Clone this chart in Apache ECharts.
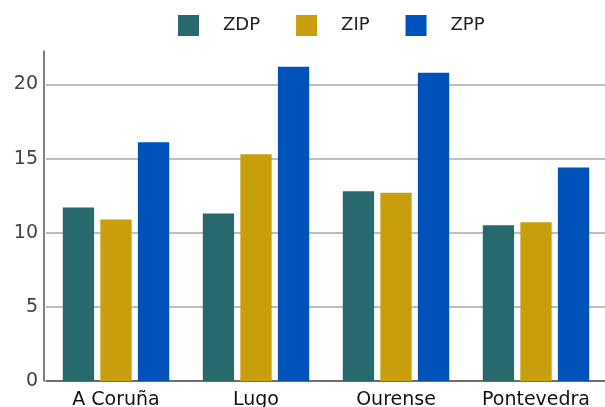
<!DOCTYPE html>
<html>
<head>
<meta charset="utf-8">
<script src="https://cdn.jsdelivr.net/npm/echarts@6/dist/echarts.min.js"></script>
<style>
  html, body { margin: 0; padding: 0; background: #fff; }
  #chart { width: 605px; height: 407px; }
</style>
</head>
<body>
<div id="chart"></div>
<script>
const provinces = ['A Coruña', 'Lugo', 'Ourense', 'Pontevedra'];
const seriesNames = ['ZDP', 'ZIP', 'ZPP'];
const zdp = [11.7, 11.3, 12.8, 10.5];
const zip = [10.9, 15.3, 12.7, 10.7];
const zpp = [16.1, 21.2, 20.8, 14.4];
const colors = ['#27696D', '#C89E0C', '#0052BB'];

const chart = echarts.init(document.getElementById('chart'), null, {renderer: 'canvas'});
const font = 'DejaVu Sans';

chart.setOption({
  animation: false,
  color: colors,
  textStyle: {fontFamily: font},
  legend: {
    data: seriesNames,
    left: 173,
    top: 10,
    itemWidth: 21,
    itemHeight: 21,
    itemGap: 36,
    icon: 'rect',
    textStyle: {fontSize: 18, color: '#222', fontFamily: font, padding: [0, 0, 0, 19]},
  },
  // plot area starts 2px right of the y axis line; labels may run off the bottom
  grid: {left: 46, right: -1, top: 51, bottom: 26, containLabel: false, outerBoundsMode: 'none'},
  xAxis: {
    type: 'category',
    data: provinces,
    axisTick: {show: false},
    axisLine: {lineStyle: {color: '#555', width: 1.5}},
    axisLabel: {fontSize: 19, color: '#111', margin: 10, interval: 0, hideOverlap: false, fontFamily: font},
  },
  yAxis: {
    type: 'value',
    min: 0,
    max: 22.26,
    interval: 5,
    offset: 2,
    axisLine: {show: true, lineStyle: {color: '#555', width: 1.5}},
    axisTick: {show: false},
    axisLabel: {fontSize: 19, color: '#444', margin: 6, showMaxLabel: false, fontFamily: font},
    splitLine: {show: true, showMaxLine: false, lineStyle: {color: '#bdbdbd', width: 2}},
  },
  series: [
    {name: 'ZDP', type: 'bar', data: zdp, barGap: '20%', barCategoryGap: '24%'},
    {name: 'ZIP', type: 'bar', data: zip, barGap: '20%', barCategoryGap: '24%'},
    {name: 'ZPP', type: 'bar', data: zpp, barGap: '20%', barCategoryGap: '24%'},
  ],
});
</script>
</body>
</html>
